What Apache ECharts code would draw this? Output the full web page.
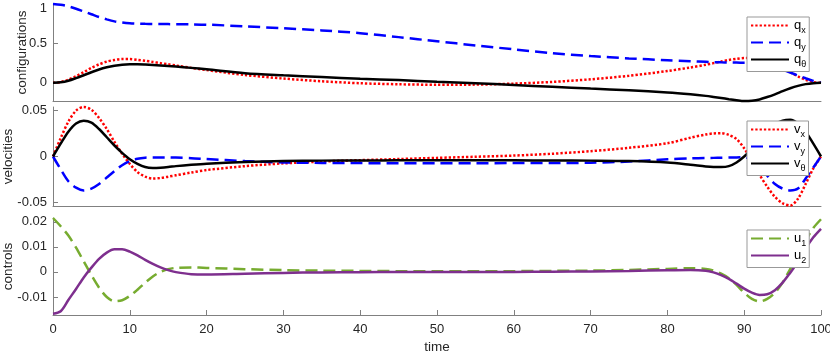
<!DOCTYPE html>
<html>
<head>
<meta charset="utf-8">
<script src="https://cdn.jsdelivr.net/npm/echarts@6/dist/echarts.min.js"></script>
<style>
html,body{margin:0;padding:0;background:#fff}
#main{width:830px;height:354px}
</style>
</head>
<body>
<div id="main"></div>
<script>
// time samples (denser where things move)
var t = [0,1,2,3,4,5,6,7,8,9,10,11,12,13,14,15,16,18,20,25,30,35,40,45,50,55,60,65,70,75,80,83,85,86,87,88,89,90,91,92,93,94,95,96,97,98,99,100];

// configurations
var qx = [0,0.01,0.04,0.085,0.135,0.19,0.235,0.27,0.29,0.302,0.302,0.292,0.28,0.265,0.25,0.235,0.22,
  0.19,0.162,
  0.10,0.055,0.02,-0.005,-0.018,-0.024,-0.022,-0.01,0.012,0.045,0.09,0.15,
  0.195,0.23,
  0.25,0.27,0.29,0.305,0.315,0.315,0.305,0.275,0.235,0.187,0.134,0.082,0.04,0.01,0];
var qy = [1.0,0.99,0.97,0.94,0.905,0.87,0.835,0.805,0.78,0.765,0.755,0.75,0.748,0.747,0.746,0.745,0.744,
  0.742,0.738,
  0.717,0.692,0.665,0.63,0.58,0.527,0.475,0.425,0.377,0.34,0.31,0.287,
  0.275,0.267,
  0.263,0.26,0.258,0.257,0.256,0.255,0.245,0.228,0.2,0.166,0.13,0.094,0.058,0.025,0];
var qth = [0,0.007,0.027,0.06,0.097,0.135,0.17,0.197,0.217,0.23,0.235,0.235,0.232,0.227,0.221,0.214,0.207,
  0.19,0.172,
  0.122,0.095,0.073,0.053,0.035,0.015,-0.005,-0.027,-0.05,-0.073,-0.095,-0.122,
  -0.145,-0.165,
  -0.178,-0.192,-0.207,-0.22,-0.23,-0.226,-0.21,-0.18,-0.145,-0.105,-0.068,-0.038,-0.016,-0.004,0];

// velocities
var vx = [0,0.02,0.038,0.05,0.054,0.051,0.042,0.03,0.016,0.003,-0.008,-0.017,-0.022,-0.024,-0.0235,-0.022,-0.0205,
  -0.0175,-0.0148,
  -0.0105,-0.0075,-0.0055,-0.004,-0.0028,-0.0015,-0.0003,0.001,0.003,0.0058,0.0095,0.0145,
  0.0205,0.024,
  0.0252,0.0255,0.0235,0.019,0.009,-0.005,-0.02,-0.033,-0.044,-0.051,-0.0535,-0.046,-0.03,-0.013,0];
var vy = [0,-0.014,-0.027,-0.034,-0.037,-0.035,-0.03,-0.023,-0.016,-0.0095,-0.005,-0.0025,-0.0013,-0.001,-0.001,-0.001,-0.0012,
  -0.0018,-0.0028,
  -0.005,-0.0065,-0.007,-0.0072,-0.0073,-0.0073,-0.0073,-0.0072,-0.0071,-0.0068,-0.0055,-0.003,
  -0.002,-0.0016,
  -0.0015,-0.0014,-0.0012,-0.001,-0.0008,-0.004,-0.012,-0.021,-0.03,-0.035,-0.037,-0.035,-0.024,-0.012,0];
var vth = [0,0.014,0.027,0.036,0.039,0.037,0.03,0.021,0.012,0.004,-0.003,-0.008,-0.0115,-0.0125,-0.0122,-0.0115,-0.0105,
  -0.009,-0.0078,
  -0.006,-0.005,-0.0045,-0.0043,-0.0042,-0.0042,-0.0042,-0.0042,-0.0043,-0.0045,-0.005,-0.0065,
  -0.009,-0.011,
  -0.0115,-0.0115,-0.0105,-0.0065,0,0.008,0.018,0.028,0.035,0.039,0.04,0.036,0.027,0.014,0];

// controls
var u1 = [0.0215,0.0182,0.0145,0.0097,0.0042,-0.0013,-0.0063,-0.01,-0.0117,-0.0113,-0.0096,-0.0071,-0.0043,-0.0018,0,0.0011,0.0016,
  0.0018,0.0016,
  0.0011,0.0007,0.0005,0.0004,0.0003,0.0003,0.0003,0.0003,0.0004,0.0005,0.0008,0.0012,
  0.0015,0.0012,
  0.0005,-0.0007,-0.0025,-0.0052,-0.0083,-0.0108,-0.0118,-0.0108,-0.0083,-0.0043,0.0012,0.0068,0.0125,0.0175,0.021];
var u2 = [-0.0167,-0.0157,-0.0112,-0.0068,-0.0022,0.0017,0.0052,0.0077,0.009,0.009,0.0081,0.0066,0.0048,0.0032,0.0018,0.0007,-0.0001,
  -0.0009,-0.001,
  -0.0007,-0.0004,-0.0002,-0.0001,0,0,0,0,0.0001,0.0002,0.0004,0.0007,
  0.0008,0.0005,
  -0.0002,-0.0013,-0.0028,-0.0047,-0.0067,-0.0083,-0.0092,-0.0089,-0.0073,-0.0043,-0.0003,0.004,0.0093,0.0138,0.0172];

// tick labels
var xTicks = [0,10,20,30,40,50,60,70,80,90,100];
var yTicks1 = [0, 0.5, 1];
var yTicks2 = [-0.05, 0, 0.05];
var yTicks3 = [-0.01, 0, 0.01, 0.02];

var chart = echarts.init(document.getElementById('main'));
var font = 'Liberation Sans, Arial, Helvetica, sans-serif';
var axisGray = '#808080';
var textGray = '#262626';

function pairs(ys) {
  return t.map(function (x, i) { return [x, ys[i]]; });
}

function fmt(v) {
  var s = String(+v.toFixed(4));
  return v === 1 ? '{e|' + s + '}' : s;
}

function xAxisFor(i, full) {
  return {
    type: 'value', gridIndex: i, min: 0, max: 100, interval: 10,
    axisLine: {show: true, onZero: false, lineStyle: {color: axisGray, width: 1}},
    axisTick: {show: full, inside: true, length: 5, customValues: xTicks, lineStyle: {color: axisGray}},
    axisLabel: {show: full, customValues: xTicks, color: textGray, fontSize: 13, fontFamily: font, margin: 8},
    splitLine: {show: false},
    name: full ? 'time' : '', nameLocation: 'middle', nameGap: 25, nameMoveOverlap: false,
    nameTextStyle: {color: textGray, fontSize: 13.5, fontFamily: font}
  };
}

function yAxisFor(i, name, lo, hi, ticks, gap) {
  return {
    type: 'value', gridIndex: i, min: lo, max: hi,
    axisLine: {show: true, onZero: false, lineStyle: {color: axisGray, width: 1}},
    axisTick: {show: true, inside: true, length: 5, customValues: ticks, lineStyle: {color: axisGray}},
    axisLabel: {
      customValues: ticks, color: textGray, fontSize: 13, fontFamily: font, margin: 6,
      formatter: fmt,
      rich: {e: {fontSize: 13, fontFamily: font, color: textGray, padding: [8, 0, 0, 0]}}
    },
    splitLine: {show: false},
    name: name, nameLocation: 'middle', nameGap: gap, nameMoveOverlap: false,
    nameTextStyle: {color: textGray, fontSize: 13.5, fontFamily: font}
  };
}

function legendFor(names, top) {
  return {
    data: names, orient: 'vertical', left: 747, top: top,
    itemWidth: 38, itemHeight: 14, itemGap: 0.5,
    padding: [2, 3, 2, 3],
    borderColor: '#999', borderWidth: 1, backgroundColor: '#fff',
    selectedMode: false,
    itemStyle: {color: 'rgba(0,0,0,0)', borderWidth: 0, opacity: 0},
    formatter: function (n) { return '{m|' + n.charAt(0) + '}{s|' + n.slice(1) + '}'; },
    textStyle: {
      rich: {
        m: {fontSize: 13, fontFamily: font, color: '#000', lineHeight: 20, verticalAlign: 'middle'},
        s: {fontSize: 9, fontFamily: font, color: '#000', lineHeight: 8, verticalAlign: 'bottom'}
      }
    }
  };
}

function line(name, i, ys, color, type) {
  return {
    name: name, type: 'line', xAxisIndex: i, yAxisIndex: i,
    data: pairs(ys), symbol: 'none', smooth: 0.3, clip: false, silent: true,
    lineStyle: {color: color, width: 2.5, type: type},
    itemStyle: {color: color},
    emphasis: {disabled: true}
  };
}

var dotted = [2.3, 2];
var dashed = [12, 6];

chart.setOption({
  animation: false,
  backgroundColor: '#fff',
  grid: [
    {left: 53, right: 9, top: 4, height: 97, outerBoundsMode: 'none'},
    {left: 53, right: 9, top: 107, height: 99, outerBoundsMode: 'none'},
    {left: 53, right: 9, top: 218, height: 97, outerBoundsMode: 'none'}
  ],
  xAxis: [xAxisFor(0, false), xAxisFor(1, false), xAxisFor(2, true)],
  yAxis: [
    yAxisFor(0, 'configurations', -0.23, 1.0, yTicks1, 24),
    yAxisFor(1, 'velocities', -0.054, 0.054, yTicks2, 38),
    yAxisFor(2, 'controls', -0.0172, 0.0215, yTicks3, 38)
  ],
  legend: [
    legendFor(['qx', 'qy', 'qθ'], 17),
    legendFor(['vx', 'vy', 'vθ'], 121),
    legendFor(['u1', 'u2'], 230)
  ],
  series: [
    line('qx', 0, qx, '#ff0000', dotted),
    line('qy', 0, qy, '#0000ff', dashed),
    line('qθ', 0, qth, '#000000', 'solid'),
    line('vx', 1, vx, '#ff0000', dotted),
    line('vy', 1, vy, '#0000ff', dashed),
    line('vθ', 1, vth, '#000000', 'solid'),
    line('u1', 2, u1, '#77ac30', dashed),
    line('u2', 2, u2, '#7e2f8e', 'solid')
  ]
});
</script>
</body>
</html>
